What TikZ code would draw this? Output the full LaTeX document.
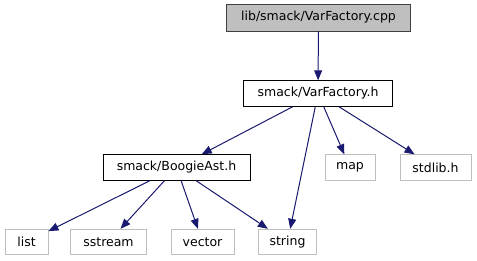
\documentclass[tikz,border=0pt]{standalone}
\usepackage{fontspec}
\setmainfont{DejaVu Sans}
\usetikzlibrary{arrows.meta}
\definecolor{edgeblue}{HTML}{191970}
\definecolor{sysgrey}{HTML}{BFBFBF}
\definecolor{rootline}{HTML}{404040}
\tikzset{
  file/.style={draw, line width=0.9pt, inner sep=0pt, minimum height=25.5pt,
    font=\fontsize{12.5}{15}\selectfont},
  sysfile/.style={file, draw=sysgrey},
  rootfile/.style={file, draw=rootline, fill=sysgrey},
  incl/.style={edgeblue, line width=1pt, -{Triangle[length=10pt,width=8pt]}}
}
\begin{document}
\begin{tikzpicture}[x=1pt,y=-1pt]
      \useasboundingbox (0,0) rectangle (477,261);
      \draw
        (318.5,17.5) node[rootfile, minimum width=184pt, minimum height=27pt] (cpp){lib/smack/VarFactory.cpp}
        (318,93.5) node[file, minimum width=149pt] (varfactory){smack/VarFactory.h}
        (176.5,167.5) node[file, minimum width=147pt] (boogieast){smack/BoogieAst.h}
        (350,167.5) node[sysfile, minimum width=50pt] (map){map}
        (435.5,167.5) node[sysfile, minimum width=71pt] (stdlib){stdlib.h}
        (26.5,242) node[sysfile, minimum width=43pt] (list){list}
        (108.5,242) node[sysfile, minimum width=76pt] (sstream){sstream}
        (202.5,242) node[sysfile, minimum width=63pt] (vector){vector}
        (287.5,242) node[sysfile, minimum width=58pt] (string){string};
      \begin{scope}[incl]
        \draw (cpp) to (varfactory);
        \draw (varfactory) to (boogieast);
        \draw (varfactory) to (string);
        \draw (varfactory) to (map);
        \draw (varfactory) to (stdlib);
        \draw (boogieast) to (list);
        \draw (boogieast) to (sstream);
        \draw (boogieast) to (vector);
        \draw (boogieast) to (string);
      \end{scope}
    \end{tikzpicture}
\end{document}
